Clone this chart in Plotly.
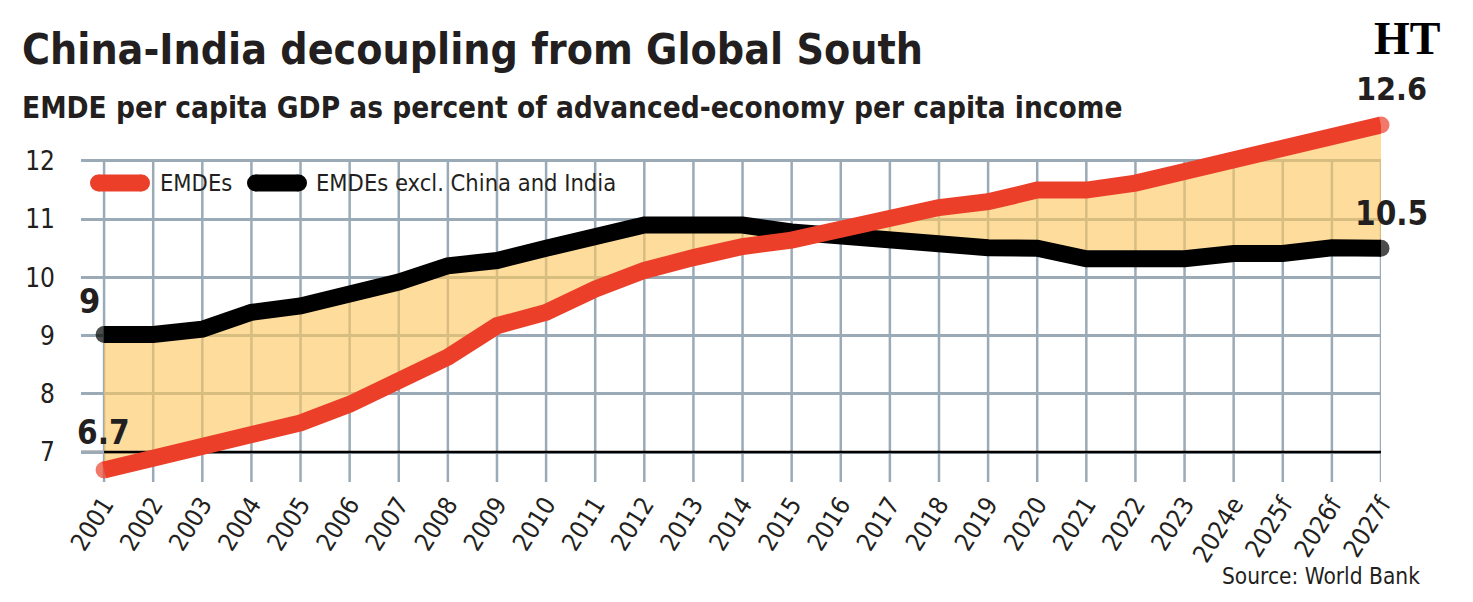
import plotly.graph_objects as go

# ---------------- data ----------------
years = ["2001", "2002", "2003", "2004", "2005", "2006", "2007", "2008", "2009",
         "2010", "2011", "2012", "2013", "2014", "2015", "2016", "2017", "2018",
         "2019", "2020", "2021", "2022", "2023", "2024e", "2025f", "2026f", "2027f"]
emdes = [6.69, 6.88, 7.08, 7.28, 7.50, 7.82, 8.22, 8.63, 9.17, 9.40, 9.80, 10.12,
         10.34, 10.53, 10.64, 10.83, 11.02, 11.20, 11.30, 11.50, 11.50, 11.62,
         11.82, 12.01, 12.23, 12.44, 12.62]
emdes_excl = [9.02, 9.02, 9.11, 9.40, 9.51, 9.70, 9.92, 10.20, 10.29, 10.50, 10.70,
              10.90, 10.90, 10.90, 10.78, 10.70, 10.62, 10.60, 10.51, 10.50, 10.32,
              10.32, 10.32, 10.41, 10.41, 10.51, 10.50]
y_ticks = [7, 8, 9, 10, 11, 12]
series_names = ["EMDEs", "EMDEs excl. China and India"]
label_first_excl = "9"
label_first_emdes = "6.7"
label_last_excl = "10.5"
label_last_emdes = "12.6"

# ---------------- style / layout ----------------
W, H = 1473, 602
L, R, T, B = 81, 1381, 105, 482
YMIN, YMAX = 6.485, 12.962


def px(x):
    return (x - L) / (R - L)


def py(y):
    return (B - y) / (B - T)


RED = "#EC3F2A"
BLACK = "#000000"
FILL = "rgba(252,199,98,0.63)"
GRID = "#9AAAB6"
TXT = "#231F20"
FONT = "Liberation Sans Narrow, DejaVu Sans Condensed, Arial Narrow, sans-serif"
LW = 17
n = len(years)
cap_sizes = [LW if i in (0, n - 1) else 0 for i in range(n)]

fig = go.Figure()
# fill between the two series
fig.add_trace(go.Scatter(x=years, y=emdes_excl, mode="lines", line=dict(width=0),
                         hoverinfo="skip", showlegend=False))
fig.add_trace(go.Scatter(x=years, y=emdes, mode="lines", line=dict(width=0),
                         fill="tonexty", fillcolor=FILL, hoverinfo="skip",
                         showlegend=False))
# baseline at lowest tick
fig.add_trace(go.Scatter(x=years, y=[y_ticks[0]] * n, mode="lines",
                         line=dict(color=BLACK, width=2.5), hoverinfo="skip",
                         showlegend=False))
# series lines (round end caps via markers)
fig.add_trace(go.Scatter(x=years, y=emdes_excl, mode="lines+markers",
                         line=dict(color=BLACK, width=LW),
                         marker=dict(size=cap_sizes, color=BLACK, line=dict(width=0)),
                         cliponaxis=False, name=series_names[1], showlegend=False))
fig.add_trace(go.Scatter(x=years, y=emdes, mode="lines+markers",
                         line=dict(color=RED, width=LW),
                         marker=dict(size=cap_sizes, color=RED, line=dict(width=0)),
                         cliponaxis=False, name=series_names[0], showlegend=False))

shapes = []
# vertical grid lines (stop at top tick)
for i in range(n):
    shapes.append(dict(type="line", xref="x", yref="y", x0=i, x1=i, y0=YMIN,
                       y1=max(y_ticks), line=dict(color=GRID, width=2.5),
                       layer="below"))
# baseline left of first category
shapes.append(dict(type="line", xref="paper", yref="y", x0=0, x1=px(105),
                   y0=y_ticks[0], y1=y_ticks[0], line=dict(color=BLACK, width=2.5),
                   layer="below"))


def legend_sample(x0, x1, yc, color):
    r = LW / 2
    shapes.append(dict(type="line", xref="paper", yref="paper",
                       x0=px(x0 + r), x1=px(x1 - r), y0=py(yc), y1=py(yc),
                       line=dict(color=color, width=LW)))
    for cx in (x0 + r, x1 - r):
        shapes.append(dict(type="circle", xref="paper", yref="paper",
                           x0=px(cx - r), x1=px(cx + r), y0=py(yc + r), y1=py(yc - r),
                           fillcolor=color, line=dict(width=0)))


legend_sample(90, 150, 183, RED)
legend_sample(247, 307, 183, BLACK)

ann = []


def text(t, x, y, size, xanchor="left", bold=False, family=FONT, color=TXT):
    ann.append(dict(text=f"<b>{t}</b>" if bold else t, xref="paper", yref="paper",
                    x=px(x), y=py(y), xanchor=xanchor, yanchor="middle",
                    showarrow=False, font=dict(family=family, size=size, color=color)))


text("China-India decoupling from Global South", 20, 50, 42.5, bold=True)
text("EMDE per capita GDP as percent of advanced-economy per capita income", 20, 108, 29.5,
     bold=True)
text("HT", 1407, 38, 46, xanchor="center", bold=True,
     family="Liberation Serif, DejaVu Serif, serif", color="#000000")
text(series_names[0], 158, 183, 23.5)
text(series_names[1], 314, 183, 23.5)
text(label_first_excl, 89, 301, 34, xanchor="center", bold=True)
text(label_first_emdes, 103, 432, 33, xanchor="center", bold=True)
text(label_last_excl, 1391, 213, 33, xanchor="center", bold=True)
text(label_last_emdes, 1391, 89, 32, xanchor="center", bold=True)
text("Source: World Bank", 1422, 576, 22.5, xanchor="right")

fig.update_layout(
    width=W, height=H,
    margin=dict(l=L, r=W - R, t=T, b=H - B, pad=0),
    paper_bgcolor="white", plot_bgcolor="white",
    showlegend=False, hovermode=False,
    shapes=shapes, annotations=ann,
    font=dict(family=FONT, color=TXT),
    xaxis=dict(type="category", categoryorder="array", categoryarray=years,
               range=[-0.47, n - 1], showgrid=False, zeroline=False, showline=False,
               ticks="", tickangle=-58, tickfont=dict(size=25, color=TXT),
               ticklabelstandoff=2, fixedrange=True),
    yaxis=dict(range=[YMIN, YMAX], tickvals=y_ticks, showgrid=True, gridcolor=GRID,
               gridwidth=2.5, zeroline=False, showline=False, ticks="",
               tickfont=dict(size=26, color=TXT), ticklabelstandoff=25,
               fixedrange=True),
)

fig.write_html("out.html")
